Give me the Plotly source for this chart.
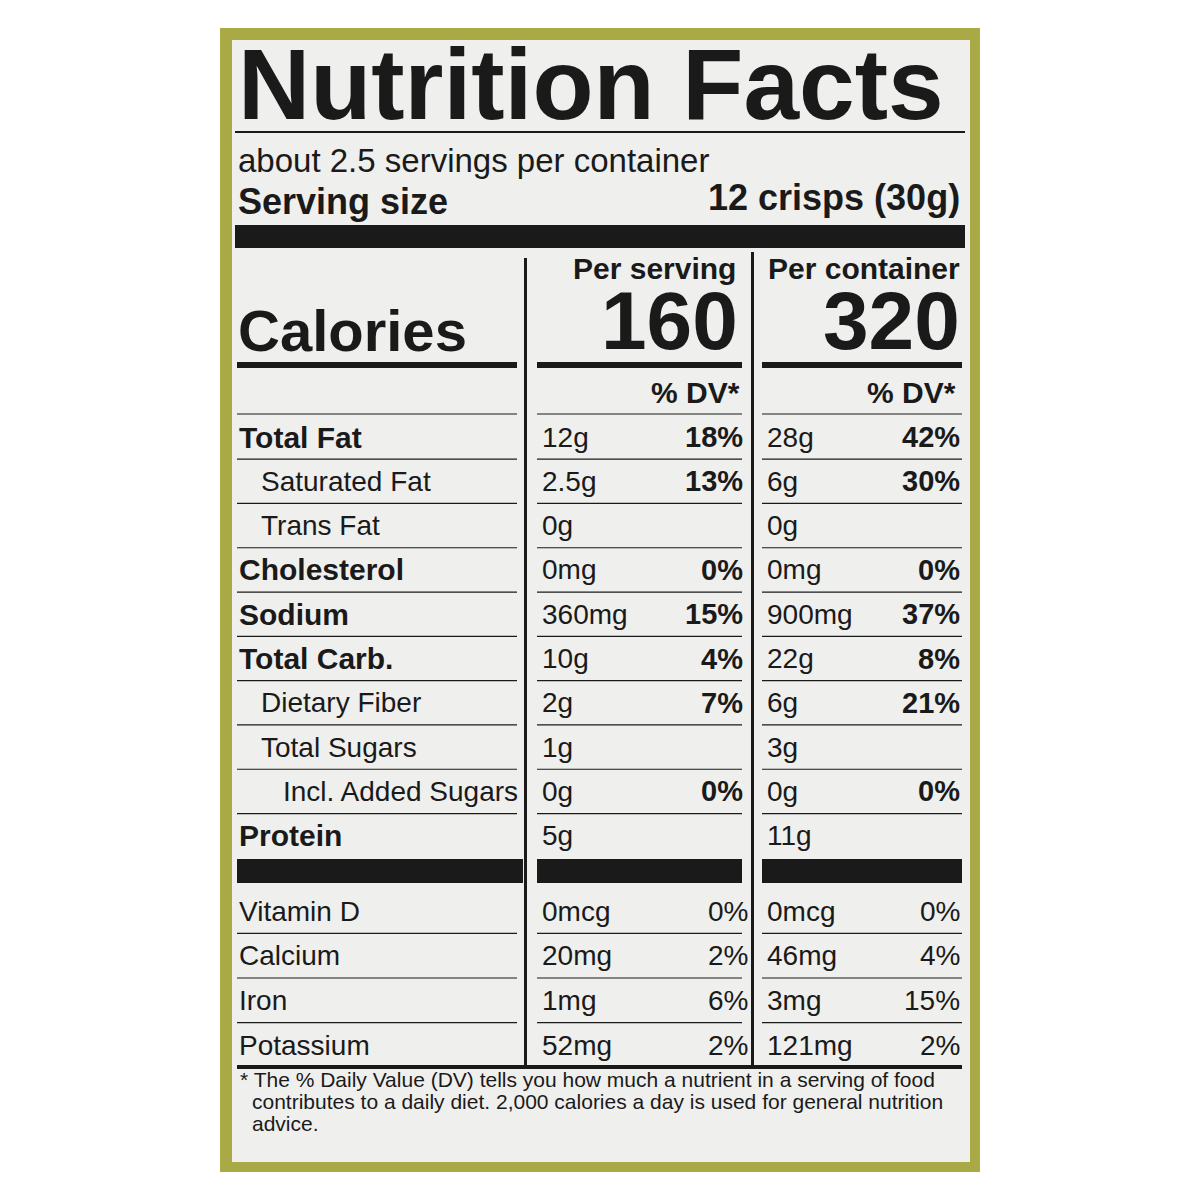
import plotly.graph_objects as go

# nutrient rows
nutrients = ["Total Fat", "Saturated Fat", "Trans Fat", "Cholesterol", "Sodium",
             "Total Carb.", "Dietary Fiber", "Total Sugars", "Incl. Added Sugars", "Protein"]
bold_rows = [True, False, False, True, True, True, False, False, False, True]
indent = [0, 1, 1, 0, 0, 0, 1, 1, 2, 0]
serv_amt = ["12g", "2.5g", "0g", "0mg", "360mg", "10g", "2g", "1g", "0g", "5g"]
serv_dv = ["18%", "13%", "", "0%", "15%", "4%", "7%", "", "0%", ""]
cont_amt = ["28g", "6g", "0g", "0mg", "900mg", "22g", "6g", "3g", "0g", "11g"]
cont_dv = ["42%", "30%", "", "0%", "37%", "8%", "21%", "", "0%", ""]

vitamins = ["Vitamin D", "Calcium", "Iron", "Potassium"]
vit_serv_amt = ["0mcg", "20mg", "1mg", "52mg"]
vit_serv_dv = ["0%", "2%", "6%", "2%"]
vit_cont_amt = ["0mcg", "46mg", "3mg", "121mg"]
vit_cont_dv = ["0%", "4%", "15%", "2%"]

footnote = ["* The % Daily Value (DV) tells you how much a nutrient in a serving of food",
            "contributes to a daily diet. 2,000 calories a day is used for general nutrition",
            "advice."]

FONT = "Liberation Sans"
INK = "#1a1a1a"
ann = []
shapes = []

def txt(x, y, s, size, bold=False, anchor="left"):
    ann.append(dict(x=x, y=y, text=f"<b>{s}</b>" if bold else s, showarrow=False,
                    xanchor=anchor, yanchor="middle",
                    font=dict(family=FONT, size=size, color=INK)))

def rect(x0, y0, x1, y1, color=INK):
    shapes.append(dict(type="rect", x0=x0, y0=y0, x1=x1, y1=y1,
                       fillcolor=color, line=dict(width=0), layer="above"))

# backgrounds
shapes.append(dict(type="rect", x0=220, y0=28, x1=980, y1=1172,
                   fillcolor="#a9a945", line=dict(width=0), layer="below"))
shapes.append(dict(type="rect", x0=232, y0=40, x1=970, y1=1162,
                   fillcolor="#efefed", line=dict(width=0), layer="below"))

txt(236, 84, "Nutrition Facts", 100, True)
rect(235, 131, 965, 133)
txt(236, 160, "about 2.5 servings per container", 33)
txt(236, 201, "Serving size", 36, True)
txt(962, 197, "12 crisps (30g)", 36, True, "right")
rect(235, 225, 965, 248)

txt(738, 268, "Per serving", 30, True, "right")
txt(962, 268, "Per container", 30, True, "right")
txt(740, 320, "160", 82, True, "right")
txt(962, 320, "320", 82, True, "right")
txt(236, 330, "Calories", 58, True)
for a, b in [(237, 517), (537, 742), (762, 962)]:
    rect(a, 362, b, 368)
txt(742, 392, "% DV*", 30, True, "right")
txt(958, 392, "% DV*", 30, True, "right")

def hline(y, w=1.2):
    for a, b in [(237, 517), (537, 742), (762, 962)]:
        rect(a, y - w / 2, b, y + w / 2)

y0, dy = 437, 44.3
hline(414)
for i, n in enumerate(nutrients):
    y = y0 + i * dy
    txt(237 + 22 * indent[i], y, n, 30 if bold_rows[i] else 28, bold_rows[i])
    txt(540, y, serv_amt[i], 28)
    txt(745, y, serv_dv[i], 29, True, "right")
    txt(765, y, cont_amt[i], 28)
    txt(962, y, cont_dv[i], 29, True, "right")
    if i < len(nutrients) - 1:
        hline(y + dy / 2)
for a, b in [(237, 523), (537, 742), (762, 962)]:
    rect(a, 859, b, 883)

vy0 = 911
for i, n in enumerate(vitamins):
    y = vy0 + i * 44.7
    txt(237, y, n, 28)
    txt(540, y, vit_serv_amt[i], 28)
    txt(750, y, vit_serv_dv[i], 28, False, "right")
    txt(765, y, vit_cont_amt[i], 28)
    txt(962, y, vit_cont_dv[i], 28, False, "right")
    if i < len(vitamins) - 1:
        hline(y + 22.3)
rect(237, 1065, 962, 1069)
rect(524, 258, 527, 1067)
rect(751, 252, 754, 1067)

for i, line in enumerate(footnote):
    txt(238 if i == 0 else 250, 1079 + i * 22, line, 21)

fig = go.Figure()
fig.update_layout(width=1200, height=1200, margin=dict(l=0, r=0, t=0, b=0),
                  paper_bgcolor="white", plot_bgcolor="white",
                  xaxis=dict(range=[8, 1208], visible=False, fixedrange=True),
                  yaxis=dict(range=[1208, 8], visible=False, fixedrange=True),
                  annotations=ann, shapes=shapes, showlegend=False)
fig.write_html("out.html")
